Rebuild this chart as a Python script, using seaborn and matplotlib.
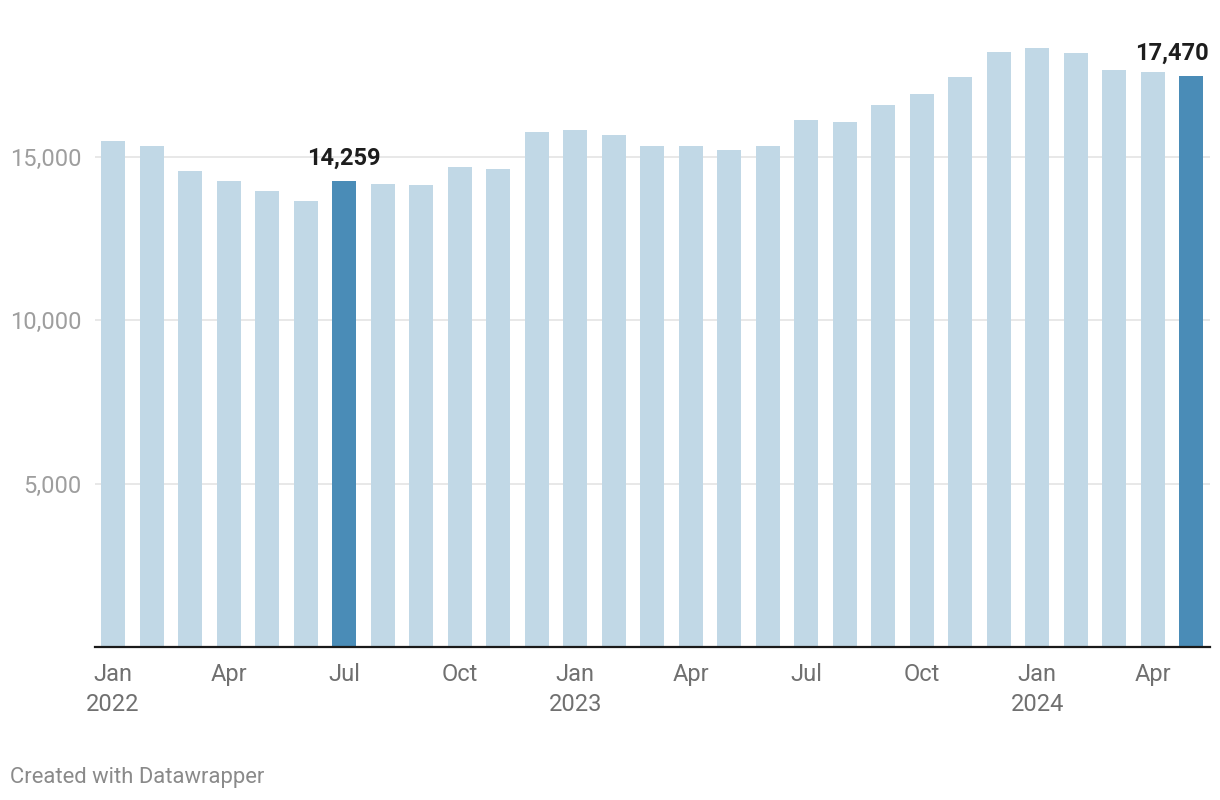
import matplotlib
matplotlib.use("Agg")
import matplotlib.pyplot as plt
import seaborn as sns
import pandas as pd
from matplotlib.ticker import FuncFormatter

# ---- data ----
months = ["2022-01", "2022-02", "2022-03", "2022-04", "2022-05", "2022-06",
          "2022-07", "2022-08", "2022-09", "2022-10", "2022-11", "2022-12",
          "2023-01", "2023-02", "2023-03", "2023-04", "2023-05", "2023-06",
          "2023-07", "2023-08", "2023-09", "2023-10", "2023-11", "2023-12",
          "2024-01", "2024-02", "2024-03", "2024-04", "2024-05"]
values = [15480, 15330, 14570, 14260, 13950, 13650,
          14259, 14170, 14140, 14690, 14630, 15760,
          15820, 15670, 15330, 15330, 15210, 15330,
          16130, 16070, 16590, 16920, 17440, 18210,
          18330, 18180, 17660, 17600, 17470]
highlighted = ["2022-07", "2024-05"]
tick_positions = [0, 3, 6, 9, 12, 15, 18, 21, 24, 27]
tick_labels = ["Jan\n2022", "Apr", "Jul", "Oct", "Jan\n2023", "Apr", "Jul", "Oct", "Jan\n2024", "Apr"]
y_ticks = [5000, 10000, 15000]

light = "#c1d8e6"
dark = "#4a8cb7"

df = pd.DataFrame({"month": months, "value": values})
palette = {m: (dark if m in highlighted else light) for m in months}

sns.set_theme(style="white")
plt.rcParams["font.family"] = ["Roboto", "DejaVu Sans"]

fig = plt.figure(figsize=(12.2, 8), dpi=100)
ax = fig.add_axes([95 / 1220, 153 / 800, 1115 / 1220, 621 / 800])

sns.barplot(data=df, x="month", y="value", hue="month", order=months,
            palette=palette, legend=False, width=0.62, saturation=1,
            linewidth=0, edgecolor="none", ax=ax, zorder=3)

ax.set_xlim(-0.47, 28.49)
ax.set_ylim(0, 19000)

ax.set_yticks(y_ticks)
ax.yaxis.set_major_formatter(FuncFormatter(lambda v, p: f"{int(v):,}"))
ax.grid(axis="y", color="#e4e4e4", linewidth=1.2, zorder=0)
ax.grid(axis="x", visible=False)

ax.set_xticks(tick_positions)
ax.set_xticklabels(tick_labels, linespacing=1.38)

ax.tick_params(axis="x", length=0, pad=11.5, labelsize=17, labelcolor="#707070")
ax.tick_params(axis="y", length=0, pad=10, labelsize=17, labelcolor="#9e9e9e")

for s in ["top", "right", "left"]:
    ax.spines[s].set_visible(False)
ax.spines["bottom"].set_color("#1a1a1a")
ax.spines["bottom"].set_linewidth(1.6)
ax.spines["bottom"].set_zorder(5)

ax.set_xlabel("")
ax.set_ylabel("")

# annotations of highlighted bars
i1 = months.index("2022-07")
ax.annotate(f"{values[i1]:,}", xy=(i1, values[i1]), xytext=(0, 12),
            textcoords="offset points", ha="center", va="baseline",
            fontsize=17, fontweight="bold", color="#1d1d1d", zorder=6)
i2 = months.index("2024-05")
ax.annotate(f"{values[i2]:,}", xy=(i2, values[i2]), xytext=(13, 11.5),
            textcoords="offset points", ha="right", va="baseline",
            fontsize=17, fontweight="bold", color="#1d1d1d", zorder=6,
            annotation_clip=False)

fig.text(10 / 1220, 1 - 783 / 800, "Created with Datawrapper", fontsize=15.8,
         color="#8a8a8a", ha="left", va="baseline")

fig.savefig("out.png", dpi=100, facecolor="white")
